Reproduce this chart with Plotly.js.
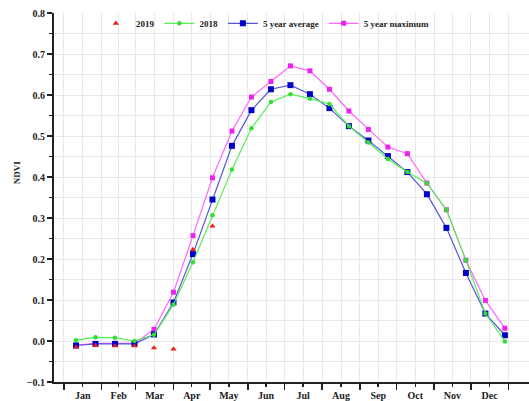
<!DOCTYPE html>
<html>
<head>
<meta charset="utf-8">
<script src="https://cdn.plot.ly/plotly-3.0.1.min.js"></script>
<style>html,body{margin:0;padding:0;background:#fff;}#chart{width:529px;height:401px;}</style>
</head>
<body>
<div id="chart"></div>
<script>
// MODIS 16-day composite start days (day of year)
const compositeDOY = [1,17,33,49,65,81,97,113,129,145,161,177,193,209,225,241,257,273,289,305,321,337,353];
const months = ['Jan','Feb','Mar','Apr','May','Jun','Jul','Aug','Sep','Oct','Nov','Dec'];
const monthStartDay = [0,31,59,90,120,151,181,212,243,273,304,334,365];

const ndvi2019 = [-0.015,-0.011,-0.012,-0.012,-0.017,-0.020,0.223,0.280];
const ndvi2018 = [0.002,0.009,0.008,0.000,0.015,0.089,0.192,0.307,0.418,0.519,0.583,0.602,0.591,0.578,0.524,0.484,0.444,0.412,0.385,0.320,0.197,0.067,-0.001];
const ndvi5yAvg = [-0.011,-0.007,-0.007,-0.007,0.016,0.094,0.212,0.345,0.476,0.563,0.614,0.624,0.602,0.568,0.524,0.489,0.451,0.412,0.358,0.276,0.166,0.067,0.014];
const ndvi5yMax = [-0.010,-0.006,-0.006,-0.006,0.028,0.119,0.257,0.398,0.512,0.595,0.633,0.671,0.659,0.614,0.561,0.516,0.473,0.457,0.385,0.320,0.197,0.099,0.031];

// plot each composite near its mid-period
const xs = compositeDOY.map(d => d + 9);
const monthMid = months.map((m,i) => (monthStartDay[i] + monthStartDay[i+1]) / 2);

const serif = 'Liberation Serif, Times New Roman, serif';

const traces = [
  {name:'5 year maximum', x: xs, y: ndvi5yMax, mode:'lines+markers',
   line:{color:'#ff66ff', width:1.2}, marker:{symbol:'square', size:5, color:'#ee22ee'}},
  {name:'5 year average', x: xs, y: ndvi5yAvg, mode:'lines+markers',
   line:{color:'#5555dd', width:1.2}, marker:{symbol:'square', size:6, color:'#0000c8'}},
  {name:'2018', x: xs, y: ndvi2018, mode:'lines+markers',
   line:{color:'#55ee55', width:1.2}, marker:{symbol:'circle', size:4.5, color:'#33dd33'}},
  {name:'2019', x: xs.slice(0, ndvi2019.length), y: ndvi2019, mode:'markers',
   marker:{symbol:'triangle-up', size:5.5, color:'#ee1c1c'}}
];

const layout = {
  width: 529, height: 401,
  margin: {l:54, r:0, t:13, b:19, pad:0},
  paper_bgcolor:'#fff', plot_bgcolor:'#fff',
  showlegend: true,
  legend: {orientation:'h', x:0.445, xanchor:'center', y:0.972, yanchor:'middle',
    traceorder:'reversed', bgcolor:'rgba(0,0,0,0)',
    font:{family:serif, size:9, color:'#222', weight:'bold'}},
  xaxis: {
    range:[-8.05, 381.8], showline:true, linecolor:'#222', linewidth:2,
    tickmode:'array', tickvals: monthMid, ticktext: months,
    ticks:'outside', ticklen:3, tickwidth:1.5, tickcolor:'#222',
    showgrid:true, gridcolor:'#e8e8e8', gridwidth:1, zeroline:false,
    tickfont:{family:serif, size:10, color:'#222', weight:'bold'},
    minor:{tickmode:'array', tickvals: monthStartDay, ticks:'outside', ticklen:6,
      tickwidth:1.5, tickcolor:'#222', showgrid:true, gridcolor:'#e8e8e8', gridwidth:1},
    fixedrange:true
  },
  yaxis: {
    range:[-0.1, 0.8], showline:true, linecolor:'#222', linewidth:2,
    tickmode:'linear', tick0:-0.1, dtick:0.1, tickformat:'.1f',
    ticks:'outside', ticklen:5, tickwidth:1.5, tickcolor:'#222',
    showgrid:true, gridcolor:'#e8e8e8', gridwidth:1, zeroline:false,
    tickfont:{family:serif, size:10, color:'#222', weight:'bold'},
    minor:{dtick:0.05, ticks:'outside', ticklen:3, tickwidth:1.5, tickcolor:'#222',
      showgrid:true, gridcolor:'#e8e8e8', gridwidth:1},
    fixedrange:true
  },
  annotations: [
    {text:'NDVI', xref:'paper', yref:'paper', x:-0.078, y:0.568, textangle:-90,
     showarrow:false, xanchor:'center', yanchor:'middle',
     font:{family:serif, size:9, color:'#222', weight:'bold'}}
  ]
};

Plotly.newPlot('chart', traces, layout, {displayModeBar:false, staticPlot:true});
</script>
</body>
</html>
